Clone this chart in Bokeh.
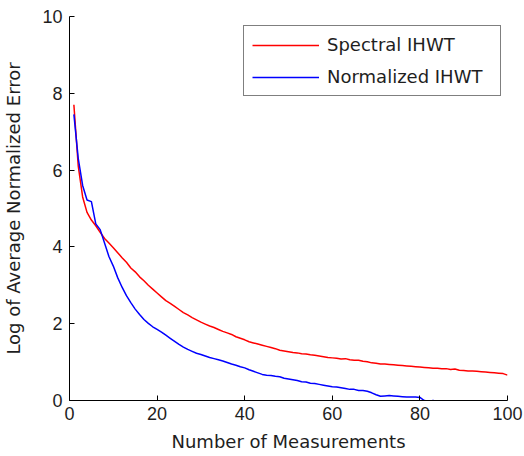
from bokeh.plotting import figure
from bokeh.models import FixedTicker, Range1d, Legend, LegendItem
from bokeh.embed import file_html
from bokeh.resources import INLINE

# ---- data ----
spectral_x = list(range(1, 101))
spectral_y = [
    7.70, 6.10, 5.30, 4.90, 4.70, 4.55, 4.38, 4.22, 4.10, 3.98,
    3.85, 3.72, 3.60, 3.45, 3.35, 3.22, 3.12, 3.00, 2.90, 2.80,
    2.70, 2.60, 2.53, 2.45, 2.37, 2.29, 2.23, 2.16, 2.10, 2.04,
    1.99, 1.94, 1.90, 1.85, 1.80, 1.76, 1.72, 1.66, 1.62, 1.58,
    1.53, 1.50, 1.47, 1.44, 1.41, 1.38, 1.35, 1.31, 1.29, 1.27,
    1.25, 1.24, 1.22, 1.21, 1.19, 1.18, 1.16, 1.14, 1.12, 1.11,
    1.10, 1.08, 1.09, 1.06, 1.05, 1.05, 1.02, 1.01, 0.98, 0.97,
    0.95, 0.95, 0.94, 0.93, 0.92, 0.91, 0.90, 0.89, 0.88, 0.87,
    0.86, 0.85, 0.84, 0.84, 0.83, 0.83, 0.81, 0.82, 0.79, 0.78,
    0.77, 0.77, 0.76, 0.75, 0.74, 0.73, 0.72, 0.71, 0.70, 0.66,
]
normalized_x = list(range(1, 85))
normalized_y = [
    7.45, 6.30, 5.60, 5.22, 5.18, 4.60, 4.45, 4.10, 3.75, 3.50,
    3.20, 2.95, 2.73, 2.55, 2.38, 2.24, 2.11, 2.01, 1.92, 1.85,
    1.78, 1.70, 1.62, 1.54, 1.46, 1.39, 1.33, 1.28, 1.23, 1.20,
    1.16, 1.12, 1.09, 1.06, 1.03, 0.99, 0.95, 0.92, 0.88, 0.85,
    0.80, 0.76, 0.72, 0.68, 0.66, 0.65, 0.63, 0.62, 0.58, 0.56,
    0.54, 0.52, 0.49, 0.48, 0.45, 0.44, 0.42, 0.40, 0.38, 0.36,
    0.35, 0.33, 0.31, 0.29, 0.29, 0.26, 0.26, 0.24, 0.20, 0.15,
    0.11, 0.12, 0.13, 0.12, 0.11, 0.10, 0.09, 0.09, 0.09, 0.08,
    0.00, -0.02, 0.00, -0.02,
]
series_names = ["Spectral IHWT", "Normalized IHWT"]
series_colors = ["#ff0000", "#0000ff"]
x_ticks = [0, 20, 40, 60, 80, 100]
y_ticks = [0, 2, 4, 6, 8, 10]
x_label = "Number of Measurements"
y_label = "Log of Average Normalized Error"

TEXT = "#1e1e1e"
LABEL_FONT = "DejaVu Sans"
TICK_FONT = "Liberation Sans"

p = figure(
    width=524, height=456,
    x_range=Range1d(0, 100), y_range=Range1d(0, 10),
    output_backend="svg", toolbar_location=None,
    min_border_left=69, min_border_right=17,
    min_border_top=16, min_border_bottom=56,
)
p.outline_line_color = None
p.background_fill_color = "white"
p.border_fill_color = "white"
p.xgrid.visible = False
p.ygrid.visible = False

for ax, ticks in ((p.xaxis[0], x_ticks), (p.yaxis[0], y_ticks)):
    ax.ticker = FixedTicker(ticks=ticks)
    ax.minor_tick_line_color = None
    ax.major_tick_in = 5
    ax.major_tick_out = 0
    ax.major_tick_line_color = "black"
    ax.axis_line_color = "black"
    ax.axis_line_width = 1
    ax.major_label_text_font = TICK_FONT
    ax.major_label_text_font_size = "18px"
    ax.major_label_text_color = TEXT
    ax.axis_label_text_font = LABEL_FONT
    ax.axis_label_text_font_size = "18px"
    ax.axis_label_text_font_style = "normal"
    ax.axis_label_text_color = TEXT

p.xaxis.major_label_standoff = 6
p.yaxis.major_label_standoff = 7
p.xaxis.axis_label = x_label
p.xaxis.axis_label_standoff = 8
p.yaxis.axis_label = y_label
p.yaxis.axis_label_standoff = 15

r1 = p.line(spectral_x, spectral_y, line_color=series_colors[0], line_width=1.5)
r2 = p.line(normalized_x, normalized_y, line_color=series_colors[1], line_width=1.5)

legend = Legend(
    items=[LegendItem(label=series_names[0], renderers=[r1]),
           LegendItem(label=series_names[1], renderers=[r2])],
    location=(174, 304), margin=0, padding=8, spacing=11,
    glyph_width=67, glyph_height=20, label_height=20, label_width=165,
    label_standoff=8,
    label_text_font=LABEL_FONT, label_text_font_size="18px", label_text_color=TEXT,
    border_line_color="black", border_line_width=1,
    background_fill_color="white", background_fill_alpha=1.0,
)
p.add_layout(legend)

open("out.html", "w").write(file_html(p, INLINE))
